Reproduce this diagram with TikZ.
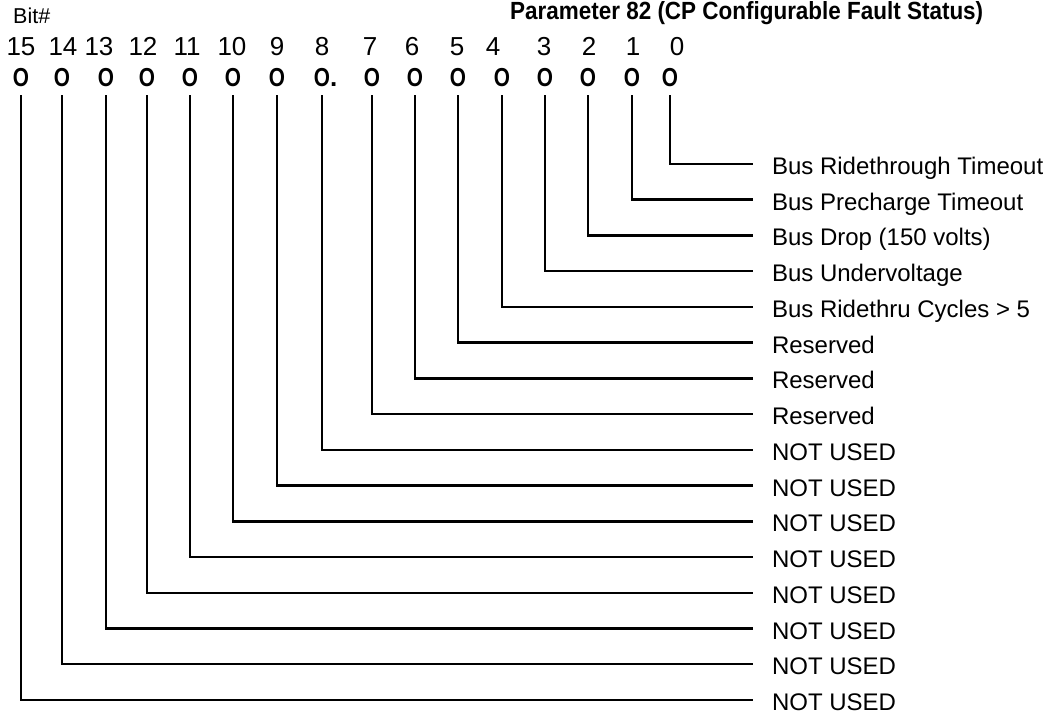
\documentclass[tikz,border=0pt]{standalone}
\usepackage{fontspec}
\setmainfont{Liberation Sans}
\begin{document}
\begin{tikzpicture}[x=1pt,y=-1pt,
  conn/.style={line width=2.5pt},
  bito/.style={font=\fontsize{26}{26}\bfseries, inner sep=0pt, outer ysep=9pt, text height=19pt, text depth=0pt},
  bitnum/.style={font=\fontsize{26}{26}\selectfont, anchor=base, inner sep=0pt},
  lbl/.style={font=\fontsize{24}{24}\selectfont, anchor=west, inner sep=0pt, outer xsep=19pt, text height=21pt, text depth=0pt},
  ttl/.style={font=\fontsize{30}{30}\bfseries, anchor=base west, inner sep=0pt},
  bith/.style={font=\fontsize{21.5}{21.5}\selectfont, anchor=base west, inner sep=0pt}]
\useasboundingbox (0,0) rectangle (1046,715);
% title and header
\node[ttl] (title) at (510,19.5) {\resizebox{473pt}{18pt}{Parameter 82 (CP Configurable Fault Status)}};
\node[bith] (bithdr) at (13,23) {Bit\#};
% bit numbers and circles
\foreach \k/\bx/\nx in {0/670/677, 1/632/633, 2/588/589, 3/545/544, 4/502/493, 5/458/457, 6/415/412, 7/372/370,
                        9/277/277, 10/233/232, 11/190/187, 12/147/143, 13/106/99, 14/62/63, 15/21/21}{
  \node[bitnum] (n\k) at (\nx,55) {\k};
  \node[bito] (b\k) at (\bx,76.5) {\scalebox{0.8}[1]{O}};
}
\node[bitnum] (n8) at (322,55) {8};
\node[bito] (b8) at (322,76.5) {\scalebox{0.8}[1]{O}\rlap{.}};
% labels
\foreach \k/\txt in {0/Bus Ridethrough Timeout, 1/Bus Precharge Timeout, 2/Bus Drop (150 volts),
                     3/Bus Undervoltage, 4/Bus Ridethru Cycles > 5, 5/Reserved, 6/Reserved, 7/Reserved,
                     8/NOT USED, 9/NOT USED, 10/NOT USED, 11/NOT USED, 12/NOT USED, 13/NOT USED,
                     14/NOT USED, 15/NOT USED}{
  \pgfmathsetmacro{\ry}{164+\k*35.73}
  \node[lbl] (l\k) at (753,\ry) {\txt};
}
% connectors
\foreach \k in {0,...,15}{
  \draw[conn] (b\k.south) |- (l\k.west);
}
\end{tikzpicture}
\end{document}
